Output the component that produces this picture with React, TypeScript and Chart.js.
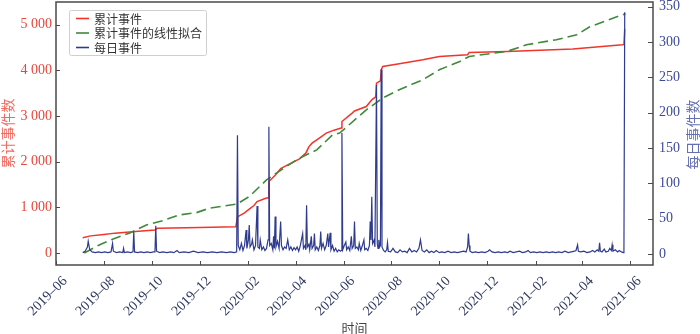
import React, { useEffect, useRef } from "react";
import { Chart, registerables } from "chart.js";
Chart.register(...registerables);

// ---------- data ----------
const xTickDates = [
  "2019-06-01", "2019-08-01", "2019-10-01", "2019-12-01", "2020-02-01", "2020-04-01",
  "2020-06-01", "2020-08-01", "2020-10-01", "2020-12-01", "2021-02-01", "2021-04-01", "2021-06-01",
];
const xTickLabels = [
  "2019–06", "2019–08", "2019–10", "2019–12", "2020–02", "2020–04",
  "2020–06", "2020–08", "2020–10", "2020–12", "2021–02", "2021–04", "2021–06",
];
const leftTickValues = [0, 1000, 2000, 3000, 4000, 5000];
const leftTickLabels = ["0", "1 000", "2 000", "3 000", "4 000", "5 000"];
const rightTickValues = [0, 50, 100, 150, 200, 250, 300, 350];
const rightTickLabels = ["0", "50", "100", "150", "200", "250", "300", "350"];

const seriesNames = ["累计事件", "累计事件的线性拟合", "每日事件"];

const cumulativeDates = [
  "2019-07-05", "2019-07-15", "2019-08-01", "2019-08-15", "2019-09-10", "2019-10-05", "2019-10-08",
  "2019-11-15", "2019-12-31", "2020-01-16", "2020-01-18", "2020-01-27", "2020-02-02", "2020-02-08",
  "2020-02-12", "2020-02-23", "2020-02-26", "2020-02-27", "2020-03-06", "2020-03-13", "2020-03-22",
  "2020-04-06", "2020-04-14", "2020-04-18", "2020-04-22", "2020-05-03", "2020-05-10", "2020-05-20",
  "2020-05-29", "2020-05-30", "2020-06-12", "2020-06-15", "2020-06-30", "2020-07-07", "2020-07-12",
  "2020-07-13", "2020-07-18", "2020-07-19", "2020-07-21", "2020-08-11", "2020-09-10", "2020-10-01",
  "2020-11-06", "2020-11-08", "2020-12-26", "2021-03-20", "2021-05-22", "2021-05-24", "2021-05-25",
];
const cumulativeValues = [
  335, 375, 405, 435, 470, 505, 540,
  555, 570, 577, 790, 880, 960, 1040,
  1125, 1200, 1210, 1564, 1700, 1850, 1930,
  2061, 2186, 2331, 2405, 2540, 2625, 2690,
  2735, 2880, 3064, 3110, 3208, 3355, 3420,
  3721, 3770, 4013, 4086, 4145, 4233, 4305,
  4342, 4393, 4414, 4467, 4561, 4565, 4900,
];

const fitDates = [
  "2019-07-07", "2019-07-26", "2019-08-12", "2019-09-03", "2019-09-24", "2019-10-15", "2019-11-05",
  "2019-11-27", "2019-12-13", "2020-01-17", "2020-02-02", "2020-02-24", "2020-03-20", "2020-04-06",
  "2020-04-28", "2020-05-18", "2020-05-27", "2020-06-30", "2020-07-21", "2020-08-11", "2020-09-10",
  "2020-10-01", "2020-10-27", "2020-11-08", "2020-12-26", "2021-01-20", "2021-02-27", "2021-03-25",
  "2021-04-10", "2021-05-26",
];
const fitValues = [
  0, 175, 300, 439, 614, 708, 833,
  884, 980, 1070, 1235, 1601, 1893, 2077,
  2259, 2588, 2625, 3136, 3393, 3575, 3794,
  4013, 4195, 4305, 4414, 4561, 4671, 4781,
  4950, 5241,
];

const dailyDates = [
  "2019-07-05", "2019-07-08", "2019-07-11", "2019-07-12", "2019-07-14", "2019-07-17", "2019-07-21",
  "2019-07-25", "2019-07-29", "2019-08-02", "2019-08-06", "2019-08-10", "2019-08-12", "2019-08-13",
  "2019-08-17", "2019-08-21", "2019-08-25", "2019-08-26", "2019-08-27", "2019-08-31", "2019-09-04",
  "2019-09-07", "2019-09-08", "2019-09-09", "2019-09-13", "2019-09-17", "2019-09-21", "2019-09-25",
  "2019-09-29", "2019-10-03", "2019-10-05", "2019-10-06", "2019-10-07", "2019-10-11", "2019-10-15",
  "2019-10-20", "2019-10-25", "2019-10-29", "2019-11-02", "2019-11-05", "2019-11-11", "2019-11-17",
  "2019-11-23", "2019-11-29", "2019-12-05", "2019-12-11", "2019-12-17", "2019-12-23", "2019-12-29",
  "2020-01-04", "2020-01-09", "2020-01-14",
  "2020-01-17", "2020-01-18", "2020-01-19", "2020-01-21", "2020-01-23", "2020-01-25", "2020-01-27",
  "2020-01-29", "2020-01-30", "2020-02-01", "2020-02-02", "2020-02-03", "2020-02-05", "2020-02-06",
  "2020-02-08", "2020-02-10", "2020-02-12", "2020-02-13", "2020-02-15", "2020-02-16", "2020-02-18",
  "2020-02-20", "2020-02-22", "2020-02-24", "2020-02-26", "2020-02-27", "2020-02-28", "2020-03-01",
  "2020-03-03", "2020-03-04", "2020-03-05", "2020-03-06", "2020-03-07", "2020-03-09", "2020-03-11",
  "2020-03-13", "2020-03-14", "2020-03-16", "2020-03-18", "2020-03-20", "2020-03-22", "2020-03-24",
  "2020-03-26", "2020-03-28", "2020-03-30", "2020-04-01", "2020-04-03", "2020-04-05", "2020-04-07",
  "2020-04-10", "2020-04-11", "2020-04-13", "2020-04-14", "2020-04-15", "2020-04-16", "2020-04-18",
  "2020-04-19", "2020-04-21", "2020-04-22", "2020-04-24", "2020-04-25", "2020-04-26", "2020-04-28",
  "2020-04-30", "2020-05-02", "2020-05-03", "2020-05-04", "2020-05-06", "2020-05-08", "2020-05-10",
  "2020-05-12", "2020-05-13", "2020-05-15", "2020-05-16", "2020-05-18", "2020-05-20", "2020-05-22",
  "2020-05-24", "2020-05-26", "2020-05-28", "2020-05-29", "2020-05-30", "2020-05-31", "2020-06-02",
  "2020-06-04", "2020-06-05", "2020-06-07", "2020-06-09", "2020-06-11", "2020-06-12", "2020-06-14",
  "2020-06-15", "2020-06-16", "2020-06-18", "2020-06-20", "2020-06-21", "2020-06-23", "2020-06-25",
  "2020-06-27", "2020-06-28", "2020-06-30", "2020-07-02", "2020-07-04", "2020-07-05", "2020-07-06",
  "2020-07-07", "2020-07-08", "2020-07-10", "2020-07-11", "2020-07-13", "2020-07-14", "2020-07-15",
  "2020-07-16", "2020-07-17", "2020-07-18", "2020-07-19", "2020-07-20", "2020-07-22", "2020-07-24",
  "2020-07-26", "2020-07-27", "2020-07-28", "2020-07-31", "2020-08-03", "2020-08-06", "2020-08-09",
  "2020-08-12", "2020-08-15", "2020-08-18", "2020-08-21", "2020-08-24", "2020-08-27", "2020-08-30",
  "2020-09-02", "2020-09-05", "2020-09-07", "2020-09-09", "2020-09-12", "2020-09-15", "2020-09-18",
  "2020-09-21", "2020-09-24", "2020-09-27", "2020-10-01",
  "2020-10-04", "2020-10-08", "2020-10-12", "2020-10-16", "2020-10-20", "2020-10-24", "2020-10-28",
  "2020-11-01", "2020-11-04", "2020-11-06", "2020-11-07", "2020-11-08", "2020-11-09", "2020-11-12",
  "2020-11-16", "2020-11-20", "2020-11-24", "2020-11-28", "2020-12-02", "2020-12-04", "2020-12-07",
  "2020-12-11", "2020-12-15", "2020-12-19", "2020-12-23", "2020-12-27", "2020-12-30", "2021-01-03",
  "2021-01-07", "2021-01-11", "2021-01-15", "2021-01-19", "2021-01-22", "2021-01-25", "2021-01-29",
  "2021-02-02", "2021-02-06", "2021-02-10", "2021-02-14", "2021-02-18", "2021-02-22", "2021-02-26",
  "2021-03-02", "2021-03-06", "2021-03-10", "2021-03-14", "2021-03-18", "2021-03-22", "2021-03-24",
  "2021-03-26", "2021-03-27", "2021-03-30", "2021-04-03", "2021-04-07", "2021-04-11", "2021-04-14",
  "2021-04-17", "2021-04-20", "2021-04-22", "2021-04-23", "2021-04-24", "2021-04-26", "2021-04-29",
  "2021-05-01", "2021-05-04", "2021-05-06", "2021-05-08", "2021-05-09", "2021-05-10", "2021-05-13",
  "2021-05-16", "2021-05-18", "2021-05-21", "2021-05-23", "2021-05-24", "2021-05-25",
];
const dailyValues = [
  2, 4, 10, 18, 6, 3, 2,
  3, 2, 3, 2, 3, 15, 4,
  2, 3, 2, 8, 2, 3, 2,
  3, 32, 3, 2, 3, 2, 3,
  2, 3, 3, 40, 4, 2, 3,
  2, 3, 2, 5, 2, 3, 2,
  4, 2, 3, 2, 3, 2, 3,
  2, 3, 2,
  3, 168, 12, 6, 15, 5, 12,
  34, 8, 20, 41, 10, 14, 20,
  6, 12, 68, 10, 8, 20, 6,
  10, 5, 8, 20, 180, 12, 15,
  6, 25, 8, 53, 10, 18, 8,
  46, 12, 6, 10, 8, 20, 6,
  10, 5, 9, 6, 10, 4, 12,
  29, 8, 12, 6, 69, 10, 14,
  6, 25, 8, 12, 29, 6, 10,
  5, 12, 32, 8, 15, 6, 12,
  29, 10, 30, 6, 12, 4, 8,
  3, 6, 4, 5, 171, 6, 12,
  17, 6, 10, 5, 25, 8, 12,
  46, 8, 10, 6, 15, 5, 12,
  20, 6, 8, 5, 12, 46, 20,
  81, 15, 20, 10, 239, 15, 8,
  20, 10, 12, 261, 10, 5, 3,
  6, 16, 4, 3, 8, 3, 2,
  6, 3, 4, 2, 8, 3, 5,
  3, 8, 20, 5, 3, 6, 2,
  4, 2, 5, 2,
  3, 2, 4, 2, 3, 2, 3,
  4, 3, 10, 29, 12, 4, 2,
  3, 2, 3, 2, 4, 6, 3,
  2, 3, 2, 3, 2, 4, 2,
  3, 4, 2, 3, 5, 2, 3,
  2, 3, 2, 3, 2, 3, 2,
  3, 2, 4, 2, 3, 4, 5,
  13, 4, 3, 4, 2, 3, 5,
  3, 6, 4, 16, 4, 3, 7,
  3, 4, 8, 5, 13, 4, 6,
  3, 5, 3, 2, 3, 342,
];

// ---------- helpers ----------
const ORIGIN = Date.UTC(2019, 5, 1);
const toDay = (s: string) => {
  const [y, m, d] = s.split("-").map(Number);
  return (Date.UTC(y, m - 1, d) - ORIGIN) / 86400000;
};
const pts = (dates: string[], vals: number[]) => dates.map((d, i) => ({ x: toDay(d), y: vals[i] }));

const RED = "#f0352b";
const GREEN = "#3f8a3a";
const BLUE = "#2f3b8f";
const SERIF = '"Liberation Serif", "Noto Sans CJK SC", serif';
const CJK = '"Noto Sans CJK SC", sans-serif';

const zeroPad = (s: any) => {
  s.paddingTop = 0;
  s.paddingBottom = 0;
  s.paddingLeft = 0;
  s.paddingRight = 0;
};

const decorPlugin = {
  id: "decor",
  afterDraw(chart: any) {
    const { ctx, chartArea } = chart;
    const { left, right, top, bottom } = chartArea;
    const xs = chart.scales.x;
    const yl = chart.scales.y;
    const yr = chart.scales.y1;
    ctx.save();
    // frame
    ctx.strokeStyle = "#4a4a4a";
    ctx.lineWidth = 1.5;
    ctx.strokeRect(left, top, right - left, bottom - top);
    // inward ticks
    ctx.lineWidth = 1;
    ctx.beginPath();
    xs.ticks.forEach((t: any) => {
      const px = Math.round(xs.getPixelForValue(t.value)) + 0.5;
      ctx.moveTo(px, bottom);
      ctx.lineTo(px, bottom - 4);
    });
    yl.ticks.forEach((t: any) => {
      const py = Math.round(yl.getPixelForValue(t.value)) + 0.5;
      ctx.moveTo(left, py);
      ctx.lineTo(left + 4, py);
    });
    yr.ticks.forEach((t: any) => {
      const py = Math.round(yr.getPixelForValue(t.value)) + 0.5;
      ctx.moveTo(right, py);
      ctx.lineTo(right - 5, py);
    });
    ctx.stroke();

    // axis titles
    ctx.textAlign = "center";
    ctx.textBaseline = "middle";
    ctx.font = `14px ${CJK}`;
    ctx.fillStyle = "#f06a60";
    ctx.save();
    ctx.translate(8, (top + bottom) / 2);
    ctx.rotate(-Math.PI / 2);
    ctx.fillText("累计事件数", 0, 0);
    ctx.restore();
    ctx.fillStyle = "#6670b0";
    ctx.save();
    ctx.translate(693, (top + bottom) / 2 + 1);
    ctx.rotate(-Math.PI / 2);
    ctx.fillText("每日事件数", 0, 0);
    ctx.restore();
    ctx.fillStyle = "#444";
    ctx.font = `13px ${CJK}`;
    ctx.fillText("时间", (left + right) / 2, 328);

    // legend
    const lx = 69.5, ly = 10.5, lw = 137, lh = 45;
    ctx.fillStyle = "rgba(255,255,255,0.85)";
    ctx.strokeStyle = "#cfcfcf";
    ctx.lineWidth = 1;
    ctx.beginPath();
    if ((ctx as any).roundRect) (ctx as any).roundRect(lx, ly, lw, lh, 2);
    else ctx.rect(lx, ly, lw, lh);
    ctx.fill();
    ctx.stroke();
    const colors = [RED, GREEN, BLUE];
    const rows = [18.5, 33, 47.5];
    ctx.font = `12px ${CJK}`;
    ctx.textAlign = "left";
    ctx.textBaseline = "middle";
    seriesNames.forEach((name, i) => {
      ctx.strokeStyle = colors[i];
      ctx.lineWidth = 1.6;
      ctx.beginPath();
      ctx.moveTo(76, rows[i]);
      ctx.lineTo(89, rows[i]);
      ctx.stroke();
      ctx.fillStyle = "#333";
      ctx.fillText(name, 94, rows[i] + 0.5);
    });
    ctx.restore();
  },
};

export default function App() {
  const ref = useRef<HTMLCanvasElement>(null);
  useEffect(() => {
    document.body.style.margin = "0";
    const chart = new Chart(ref.current as HTMLCanvasElement, {
      type: "line",
      data: {
        datasets: [
          {
            label: seriesNames[0],
            data: pts(cumulativeDates, cumulativeValues),
            borderColor: RED,
            borderWidth: 1.5,
            pointRadius: 0,
            yAxisID: "y",
            order: 2,
          },
          {
            label: seriesNames[1],
            data: pts(fitDates, fitValues),
            borderColor: GREEN,
            borderWidth: 1.6,
            borderDash: [10, 5],
            pointRadius: 0,
            yAxisID: "y",
            order: 1,
          },
          {
            label: seriesNames[2],
            data: pts(dailyDates, dailyValues),
            borderColor: BLUE,
            borderWidth: 1.2,
            pointRadius: 0,
            yAxisID: "y1",
            order: 0,
          },
        ],
      },
      options: {
        animation: false,
        responsive: false,
        devicePixelRatio: 1,
        layout: { padding: { top: 2, left: 0, right: 0, bottom: 0 } },
        plugins: { legend: { display: false }, tooltip: { enabled: false } },
        elements: { line: { tension: 0 } },
        scales: {
          x: {
            type: "linear",
            min: 0,
            max: 760,
            grid: { display: false, drawTicks: false },
            border: { display: false },
            afterBuildTicks: (s: any) => {
              s.ticks = xTickDates.map((d) => ({ value: toDay(d) }));
            },
            afterFit: (s: any) => {
              s.height = 69;
              zeroPad(s);
            },
            ticks: {
              autoSkip: false,
              minRotation: 45,
              maxRotation: 45,
              padding: 8,
              labelOffset: 9,
              color: "#2d3760",
              font: { family: SERIF, size: 14 },
              callback: (_v: any, i: number) => xTickLabels[i],
            },
          },
          y: {
            type: "linear",
            position: "left",
            min: -263,
            max: 5497,
            grid: { display: false, drawTicks: false },
            border: { display: false },
            afterBuildTicks: (s: any) => {
              s.ticks = leftTickValues.map((v) => ({ value: v }));
            },
            afterFit: (s: any) => {
              s.width = 56;
              zeroPad(s);
            },
            ticks: {
              padding: 4,
              color: "#e8473d",
              font: { family: SERIF, size: 14 },
              callback: (_v: any, i: number) => leftTickLabels[i],
            },
          },
          y1: {
            type: "linear",
            position: "right",
            min: -15.5,
            max: 356.4,
            grid: { display: false, drawTicks: false },
            border: { display: false },
            afterBuildTicks: (s: any) => {
              s.ticks = rightTickValues.map((v) => ({ value: v }));
            },
            afterFit: (s: any) => {
              s.width = 47;
              zeroPad(s);
            },
            ticks: {
              padding: 6,
              color: "#3e4a99",
              font: { family: SERIF, size: 14 },
              callback: (_v: any, i: number) => rightTickLabels[i],
            },
          },
        },
      } as any,
      plugins: [decorPlugin],
    });
    return () => chart.destroy();
  }, []);
  return (
    <div style={{ width: 700, height: 334 }}>
      <canvas ref={ref} width={700} height={334} style={{ display: "block" }} />
    </div>
  );
}
